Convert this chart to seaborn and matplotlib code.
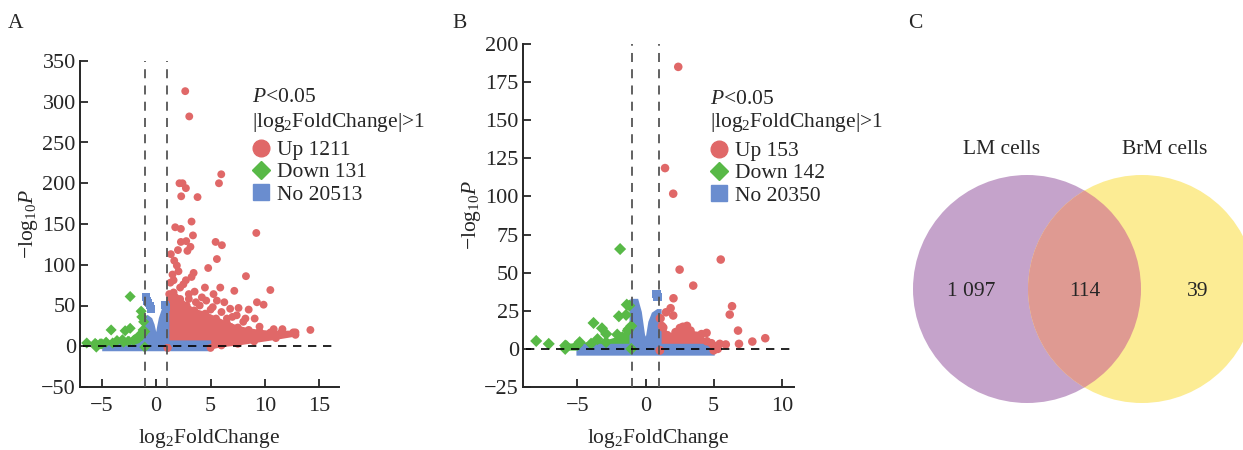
import numpy as np
import pandas as pd
import matplotlib
matplotlib.use("Agg")
import matplotlib.pyplot as plt
import seaborn as sns
from matplotlib.lines import Line2D
from matplotlib.patches import Circle

# ---------------- data ----------------
# panel A: isolated points
a_up_x = [2.67, 3.04, 5.98, 5.77, 2.14, 2.42, 2.73, 2.3, 3.8, 3.25, 1.75, 2.27, 3.38, 5.46, 6.04,
          2.27, 2.76, 3.15, 2.0, 2.87, 1.35, 5.58, 9.2, 1.66, 1.9, 2.05, 4.78, 3.44, 3.25, 8.25,
          5.89, 10.49, 4.48, 3.53, 7.18, 5.27, 2.73, 1.6, 9.26, 9.87, 6.8, 7.57, 8.5, 6.26, 5.58,
          3.65, 9.05, 8.2, 7.4, 6.5, 12.6, 14.17, 1.5, 2.5, 4.2, 5.2, 3.0,
          4.0, 6.0, 7.0, 8.0, 3.0, 5.0, 6.8, 9.5, 10.8, 11.6, 4.6, 2.2, 1.3]
a_up_y = [313, 282, 211, 200, 200, 200, 194, 184, 183, 153, 146, 144, 136, 128, 124,
          128, 129, 122, 118, 117, 113, 107, 139, 105, 99, 92, 96, 90, 85, 86,
          72, 69, 72, 67, 68, 64, 81, 81, 54, 51, 46, 47, 45, 54, 56,
          54, 34, 34, 38, 34, 17, 20, 88, 76, 60, 48, 64,
          50, 42, 36, 30, 58, 45, 24, 24, 21, 21, 56, 72, 78]
a_down_x = [-2.39, -1.32, -1.38, -1.15, -4.14, -2.85, -2.39, -1.78, -2.09, -6.38, -5.61, -5.15,
            -3.6, -3.1, -1.5, -1.2, -4.6, -2.6]
a_down_y = [61, 36, 43, 30, 20, 19, 22, 9, 7, 4, 3.5, 3, 7, 8, 14, 20, 5, 6]
a_no_x = [-0.95, -0.85, -0.7, -0.6, -0.5, 0.95, 0.8]
a_no_y = [60, 56, 53, 50, 46, 48, 51]
# panel A: outlines of the dense clouds
a_up_cloud_x = [1.05, 1.05, 1.2, 1.6, 2.2, 2.8, 3.5, 4.5, 5.5, 6.5, 7.5, 8.5, 9.5, 10.5, 11.5,
                12.8, 12.8, 11.0, 9.0, 7.5, 6.0, 5.0, 1.05]
a_up_cloud_y = [-2, 50, 64, 66, 58, 50, 44, 40, 34, 28, 23, 20, 18, 17, 17,
                17, 14, 10, 6, 3, 1, -2, -2]
a_down_cloud_x = [-5.5, -1.05, -1.05, -1.3, -1.6, -2.0, -2.5, -3.0, -4.0, -5.0, -5.5]
a_down_cloud_y = [-1, -1, 18, 14, 10, 8, 6, 5, 4, 3, 2]
a_no_cloud_x = [-4.8, 4.9, 4.9, 1.05, 1.05, 0.85, 0.6, 0.4, 0.25, 0.1, -0.1, -0.3, -0.5, -0.8,
                -1.05, -1.05, -4.8]
a_no_cloud_y = [-4, -4, 5, 5, 50, 52, 42, 34, 24, 12, 14, 26, 33, 36, 35, 5, 5]

# panel B: isolated points
b_up_x = [2.4, 1.43, 2.03, 5.52, 2.5, 3.5, 2.05, 6.35, 6.18, 1.84, 1.5, 2.03, 6.79, 4.48, 4.11,
          3.75, 2.74, 3.04, 2.52, 8.79, 7.84, 6.86, 5.89, 5.45, 4.84, 1.1, 1.2, 3.3, 2.2]
b_up_y = [185, 118.6, 101.8, 58.6, 52, 41.5, 33.2, 28, 22.5, 26.7, 24, 21.9, 12, 10.5, 9.7,
          8.6, 14.5, 15.1, 13.7, 7, 4.8, 3.3, 2.9, 3.3, 3.7, 20, 15, 12, 11]
b_down_x = [-1.87, -3.82, -3.2, -2.89, -3.53, -8.03, -7.11, -4.84, -1.96, -1.43, -1.38, -1.19,
            -2.08, -5.8, -1.3]
b_down_y = [65.5, 17, 13.5, 9.8, 6.4, 5.2, 3.3, 4.4, 21.4, 22.3, 29, 28.4, 9.4, 1.8, 12]
b_no_x = [0.82, 0.86]
b_no_y = [36, 34]
# panel B: outlines of the dense clouds
b_up_cloud_x = [1.05, 1.05, 1.3, 1.6, 2.0, 2.5, 3.0, 3.5, 4.0, 4.5, 5.0, 5.3, 5.0, 1.05]
b_up_cloud_y = [-1, 20, 14, 9, 8, 10, 12, 9, 7, 5, 2, 0, -1, -1]
b_down_cloud_x = [-5.9, -1.05, -1.05, -1.25, -1.7, -2.9, -4.0, -5.0, -5.9]
b_down_cloud_y = [0, 0, 15, 13, 7.7, 4.4, 3.4, 2.6, 2.2]
b_no_cloud_x = [-4.95, 4.95, 4.95, 1.05, 1.05, 0.9, 0.57, 0.33, 0.09, -0.16, -0.4, -0.64, -1.0,
                -1.05, -1.05, -4.95]
b_no_cloud_y = [-3.3, -3.3, 2.2, 2.2, 25, 25, 23, 17.5, 4.4, 8.8, 24, 31.7, 31.7, 30, 2.2, 2.2]

groups = ["Up", "Down", "No"]
a_counts = [1211, 131, 20513]
b_counts = [153, 142, 20350]

venn_sets = ["LM cells", "BrM cells"]
venn_counts = [1097, 114, 39]   # only LM, both, only BrM

colors = {"Up": "#E06868", "Down": "#58B947", "No": "#6A8DCF"}
markers = {"Up": "o", "Down": "D", "No": "s"}

# ---------------- style ----------------
sns.set_style("ticks")
plt.rcParams["font.family"] = ["Liberation Serif", "DejaVu Serif"]
plt.rcParams["mathtext.fontset"] = "custom"
plt.rcParams["mathtext.rm"] = "Liberation Serif"
plt.rcParams["mathtext.it"] = "Liberation Serif:italic"

FS = 15.5
W, H = 1243, 450
fig = plt.figure(figsize=(W / 100, H / 100), dpi=100)


def fx(px):
    return px / W


def fy(py):
    return 1 - py / H


def volcano(ax, up, down, no, clouds, counts, msize, xlim, ylim, xticks, yticks, txt_left, txt_top):
    # dense clouds first; up/down outline points also get markers so the edges stay bumpy
    rows = []
    for g, (cx, cy) in zip(groups, clouds):
        ax.fill(cx, cy, color=colors[g], lw=2.5, ec=colors[g], zorder=2 if g != "No" else 3)
        if g != "No":
            rows.append(pd.DataFrame({"x": cx, "y": cy, "group": g}))
    rows += [
        pd.DataFrame({"x": up[0], "y": up[1], "group": "Up"}),
        pd.DataFrame({"x": down[0], "y": down[1], "group": "Down"}),
        pd.DataFrame({"x": no[0], "y": no[1], "group": "No"}),
    ]
    df = pd.concat(rows)
    sns.scatterplot(data=df, x="x", y="y", hue="group", style="group", palette=colors,
                    markers=markers, s=msize, linewidth=0, legend=False, ax=ax, zorder=4)
    ax.axvline(-1, color="#555555", lw=1.3, ls=(0, (5, 4)), zorder=5)
    ax.axvline(1, color="#555555", lw=1.3, ls=(0, (5, 4)), zorder=5)
    ax.axhline(0, color="black", lw=1.2, ls=(0, (5, 4)), zorder=5, xmin=0.01, xmax=0.99)
    ax.set_xlim(*xlim)
    ax.set_ylim(*ylim)
    ax.set_xticks(xticks)
    ax.set_yticks(yticks)
    sns.despine(ax=ax)
    for s in ["left", "bottom"]:
        ax.spines[s].set_linewidth(1.4)
    ax.tick_params(direction="in", length=6, width=1.3, labelsize=FS + 0.5)
    ax.tick_params(axis="x", pad=7)
    ax.tick_params(axis="y", pad=3)
    ax.set_xlabel(r"$\mathrm{log}_2\mathrm{FoldChange}$", fontsize=FS, labelpad=8)
    ax.set_ylabel(r"$-\mathrm{log}_{10}P$", fontsize=FS, labelpad=1)

    fig.text(fx(txt_left), fy(txt_top), r"$P$<0.05", fontsize=FS, va="center")
    fig.text(fx(txt_left), fy(txt_top + 24), r"|log$_2$FoldChange|>1", fontsize=FS, va="center")
    handles = [Line2D([], [], ls="", marker=markers[g], color=colors[g],
                      markersize=12 if g != "Down" else 9) for g in groups]
    labels = [f"{g} {n}" for g, n in zip(groups, counts)]
    ax.legend(handles, labels, loc="upper left", bbox_to_anchor=(fx(txt_left - 1), fy(txt_top + 42)),
              bbox_transform=fig.transFigure, frameon=False, fontsize=FS, handlelength=0.9,
              handletextpad=0.3, labelspacing=0.1, borderpad=0, borderaxespad=0)


axA = fig.add_axes([fx(80), fy(387), fx(339 - 80), (387 - 61) / H])
volcano(axA, (a_up_x, a_up_y), (a_down_x, a_down_y), (a_no_x, a_no_y),
        [(a_up_cloud_x, a_up_cloud_y), (a_down_cloud_x, a_down_cloud_y), (a_no_cloud_x, a_no_cloud_y)],
        a_counts, 32, (-7, 16.8), (-50, 350), [-5, 0, 5, 10, 15], range(-50, 351, 50), 252, 98)

axB = fig.add_axes([fx(523), fy(387), fx(794 - 523), (387 - 44) / H])
volcano(axB, (b_up_x, b_up_y), (b_down_x, b_down_y), (b_no_x, b_no_y),
        [(b_up_cloud_x, b_up_cloud_y), (b_down_cloud_x, b_down_cloud_y), (b_no_cloud_x, b_no_cloud_y)],
        b_counts, 38, (-9, 10.9), (-25, 200), [-5, 0, 5, 10], range(-25, 201, 25), 710, 99)

# ---------------- Venn ----------------
axV = fig.add_axes([0, 0, 1, 1])
axV.set_xlim(0, W)
axV.set_ylim(H, 0)
axV.axis("off")
r = 114
cL, cR, cy = 1027, 1142, 289
left = Circle((cL, cy), r, color="#C5A3CB", lw=0)
right = Circle((cR, cy), r, color="#FCEC94", lw=0)
axV.add_patch(left)
axV.add_patch(right)
both = Circle((cR, cy), r, color="#DF9A92", lw=0)
axV.add_patch(both)
both.set_clip_path(left)
fmt = lambda n: f"{n:,}".replace(",", " ")
axV.text(cL - 56, cy + 2, fmt(venn_counts[0]), fontsize=FS, ha="center", va="center")
axV.text((cL + cR) / 2, cy + 2, fmt(venn_counts[1]), fontsize=FS, ha="center", va="center")
axV.text(cR + 56, cy + 2, fmt(venn_counts[2]), fontsize=FS, ha="center", va="center")
axV.text(1002, 150, venn_sets[0], fontsize=FS, ha="center", va="center")
axV.text(1165, 150, venn_sets[1], fontsize=FS, ha="center", va="center")

# panel letters
for lab, px in [("A", 8), ("B", 452), ("C", 908)]:
    fig.text(fx(px), fy(23), lab, fontsize=FS, va="center", ha="left")

fig.savefig("out.png", dpi=100)
